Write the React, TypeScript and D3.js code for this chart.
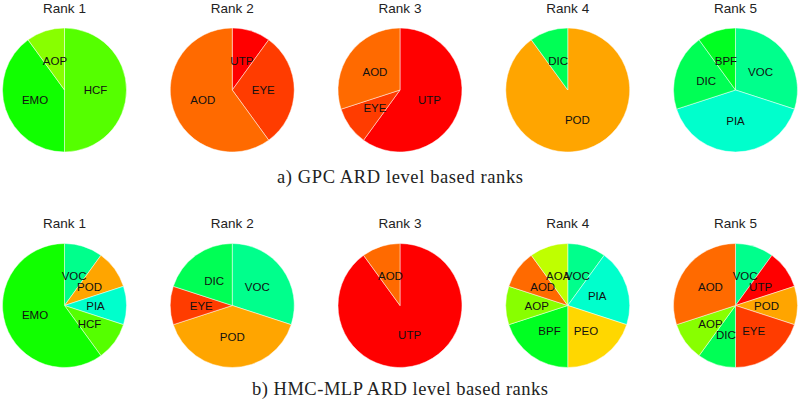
import * as d3 from "d3";

const WIDTH = 800;
const HEIGHT = 404;

const rankNames = ["Rank 1", "Rank 2", "Rank 3", "Rank 4", "Rank 5"];

// a) GPC ARD, slices listed clockwise from 12 o'clock
const gpcCategories = [
  ["HCF", "EMO", "AOP"],
  ["UTP", "EYE", "AOD"],
  ["UTP", "EYE", "AOD"],
  ["POD", "DIC"],
  ["VOC", "PIA", "DIC", "BPF"],
];
const gpcCounts = [
  [5, 4, 1],
  [1, 3, 6],
  [6, 1, 3],
  [9, 1],
  [3, 4, 2, 1],
];

// b) HMC-MLP ARD
const mlpCategories = [
  ["VOC", "POD", "PIA", "HCF", "EMO"],
  ["VOC", "POD", "EYE", "DIC"],
  ["UTP", "AOD"],
  ["VOC", "PIA", "PEO", "BPF", "AOP", "AOD", "AOA"],
  ["VOC", "UTP", "POD", "EYE", "DIC", "AOP", "AOD"],
];
const mlpCounts = [
  [1, 1, 1, 1, 6],
  [3, 4, 1, 2],
  [9, 1],
  [1, 2, 2, 2, 1, 1, 1],
  [1, 1, 1, 2, 1, 1, 3],
];

const captions = ["a) GPC ARD level based ranks", "b) HMC-MLP ARD level based ranks"];

const colorKeys = ["UTP", "EYE", "AOD", "POD", "PEO", "AOA", "AOP", "HCF", "EMO", "BPF", "DIC", "VOC", "PIA"];
const colorValues = ["#ff0000", "#ff3c00", "#ff6a00", "#ffa500", "#ffd700", "#bfff00", "#88ff00", "#55ff00", "#11ff00", "#00ff22", "#00ff55", "#00ff8c", "#00ffcc"];

const color = d3.scaleOrdinal<string, string>().domain(colorKeys).range(colorValues);

const radius = 62;
const xScale = d3.scalePoint<string>().domain(rankNames).range([64.5, 735.5]);
const rowCenterY = [90, 305.5];
const titleY = [13, 228];
const captionY = [183, 395];
const captionWidth = [246, 296];

const pie = d3
  .pie<number>()
  .sort(null)
  .value((d) => d);
const arc = d3.arc<d3.PieArcDatum<number>>().innerRadius(0).outerRadius(radius);
const labelArc = d3
  .arc<d3.PieArcDatum<number>>()
  .innerRadius(radius * 0.5)
  .outerRadius(radius * 0.5);

function PieChart({ cx, cy, cats, counts, title, ty }: { cx: number; cy: number; cats: string[]; counts: number[]; title: string; ty: number }) {
  const arcs = pie(counts);
  return (
    <g>
      <text x={cx} y={ty} textAnchor="middle" fontSize={13.5} fill="#222">
        {title}
      </text>
      <g transform={`translate(${cx},${cy})`}>
        {arcs.map((a, i) => (
          <path key={i} d={arc(a) ?? ""} fill={color(cats[i])} stroke="#fff" strokeWidth={0.8} strokeOpacity={0.6} />
        ))}
        {arcs.map((a, i) => {
          const [lx, ly] = labelArc.centroid(a);
          return (
            <text key={`l${i}`} x={lx} y={ly} dy="0.36em" textAnchor="middle" fontSize={11.5} fill="#111">
              {cats[i]}
            </text>
          );
        })}
      </g>
    </g>
  );
}

export default function App() {
  const rows = [
    { cats: gpcCategories, counts: gpcCounts },
    { cats: mlpCategories, counts: mlpCounts },
  ];
  return (
    <svg
      width={WIDTH}
      height={HEIGHT}
      style={{ position: "absolute", left: 0, top: 0, fontFamily: "'Liberation Sans', Arial, sans-serif" }}
    >
      <rect width={WIDTH} height={HEIGHT} fill="#fff" />
      {rows.map((row, r) => (
        <g key={r}>
          {rankNames.map((name, i) => (
            <PieChart
              key={name}
              cx={xScale(name) ?? 0}
              cy={rowCenterY[r]}
              cats={row.cats[i]}
              counts={row.counts[i]}
              title={name}
              ty={titleY[r]}
            />
          ))}
          <text
            x={WIDTH / 2}
            y={captionY[r]}
            textAnchor="middle"
            fontSize={18.5}
            fontFamily="'Liberation Serif', 'DejaVu Serif', serif"
            fill="#222"
            textLength={captionWidth[r]}
            lengthAdjust="spacing"
          >
            {captions[r]}
          </text>
        </g>
      ))}
    </svg>
  );
}
